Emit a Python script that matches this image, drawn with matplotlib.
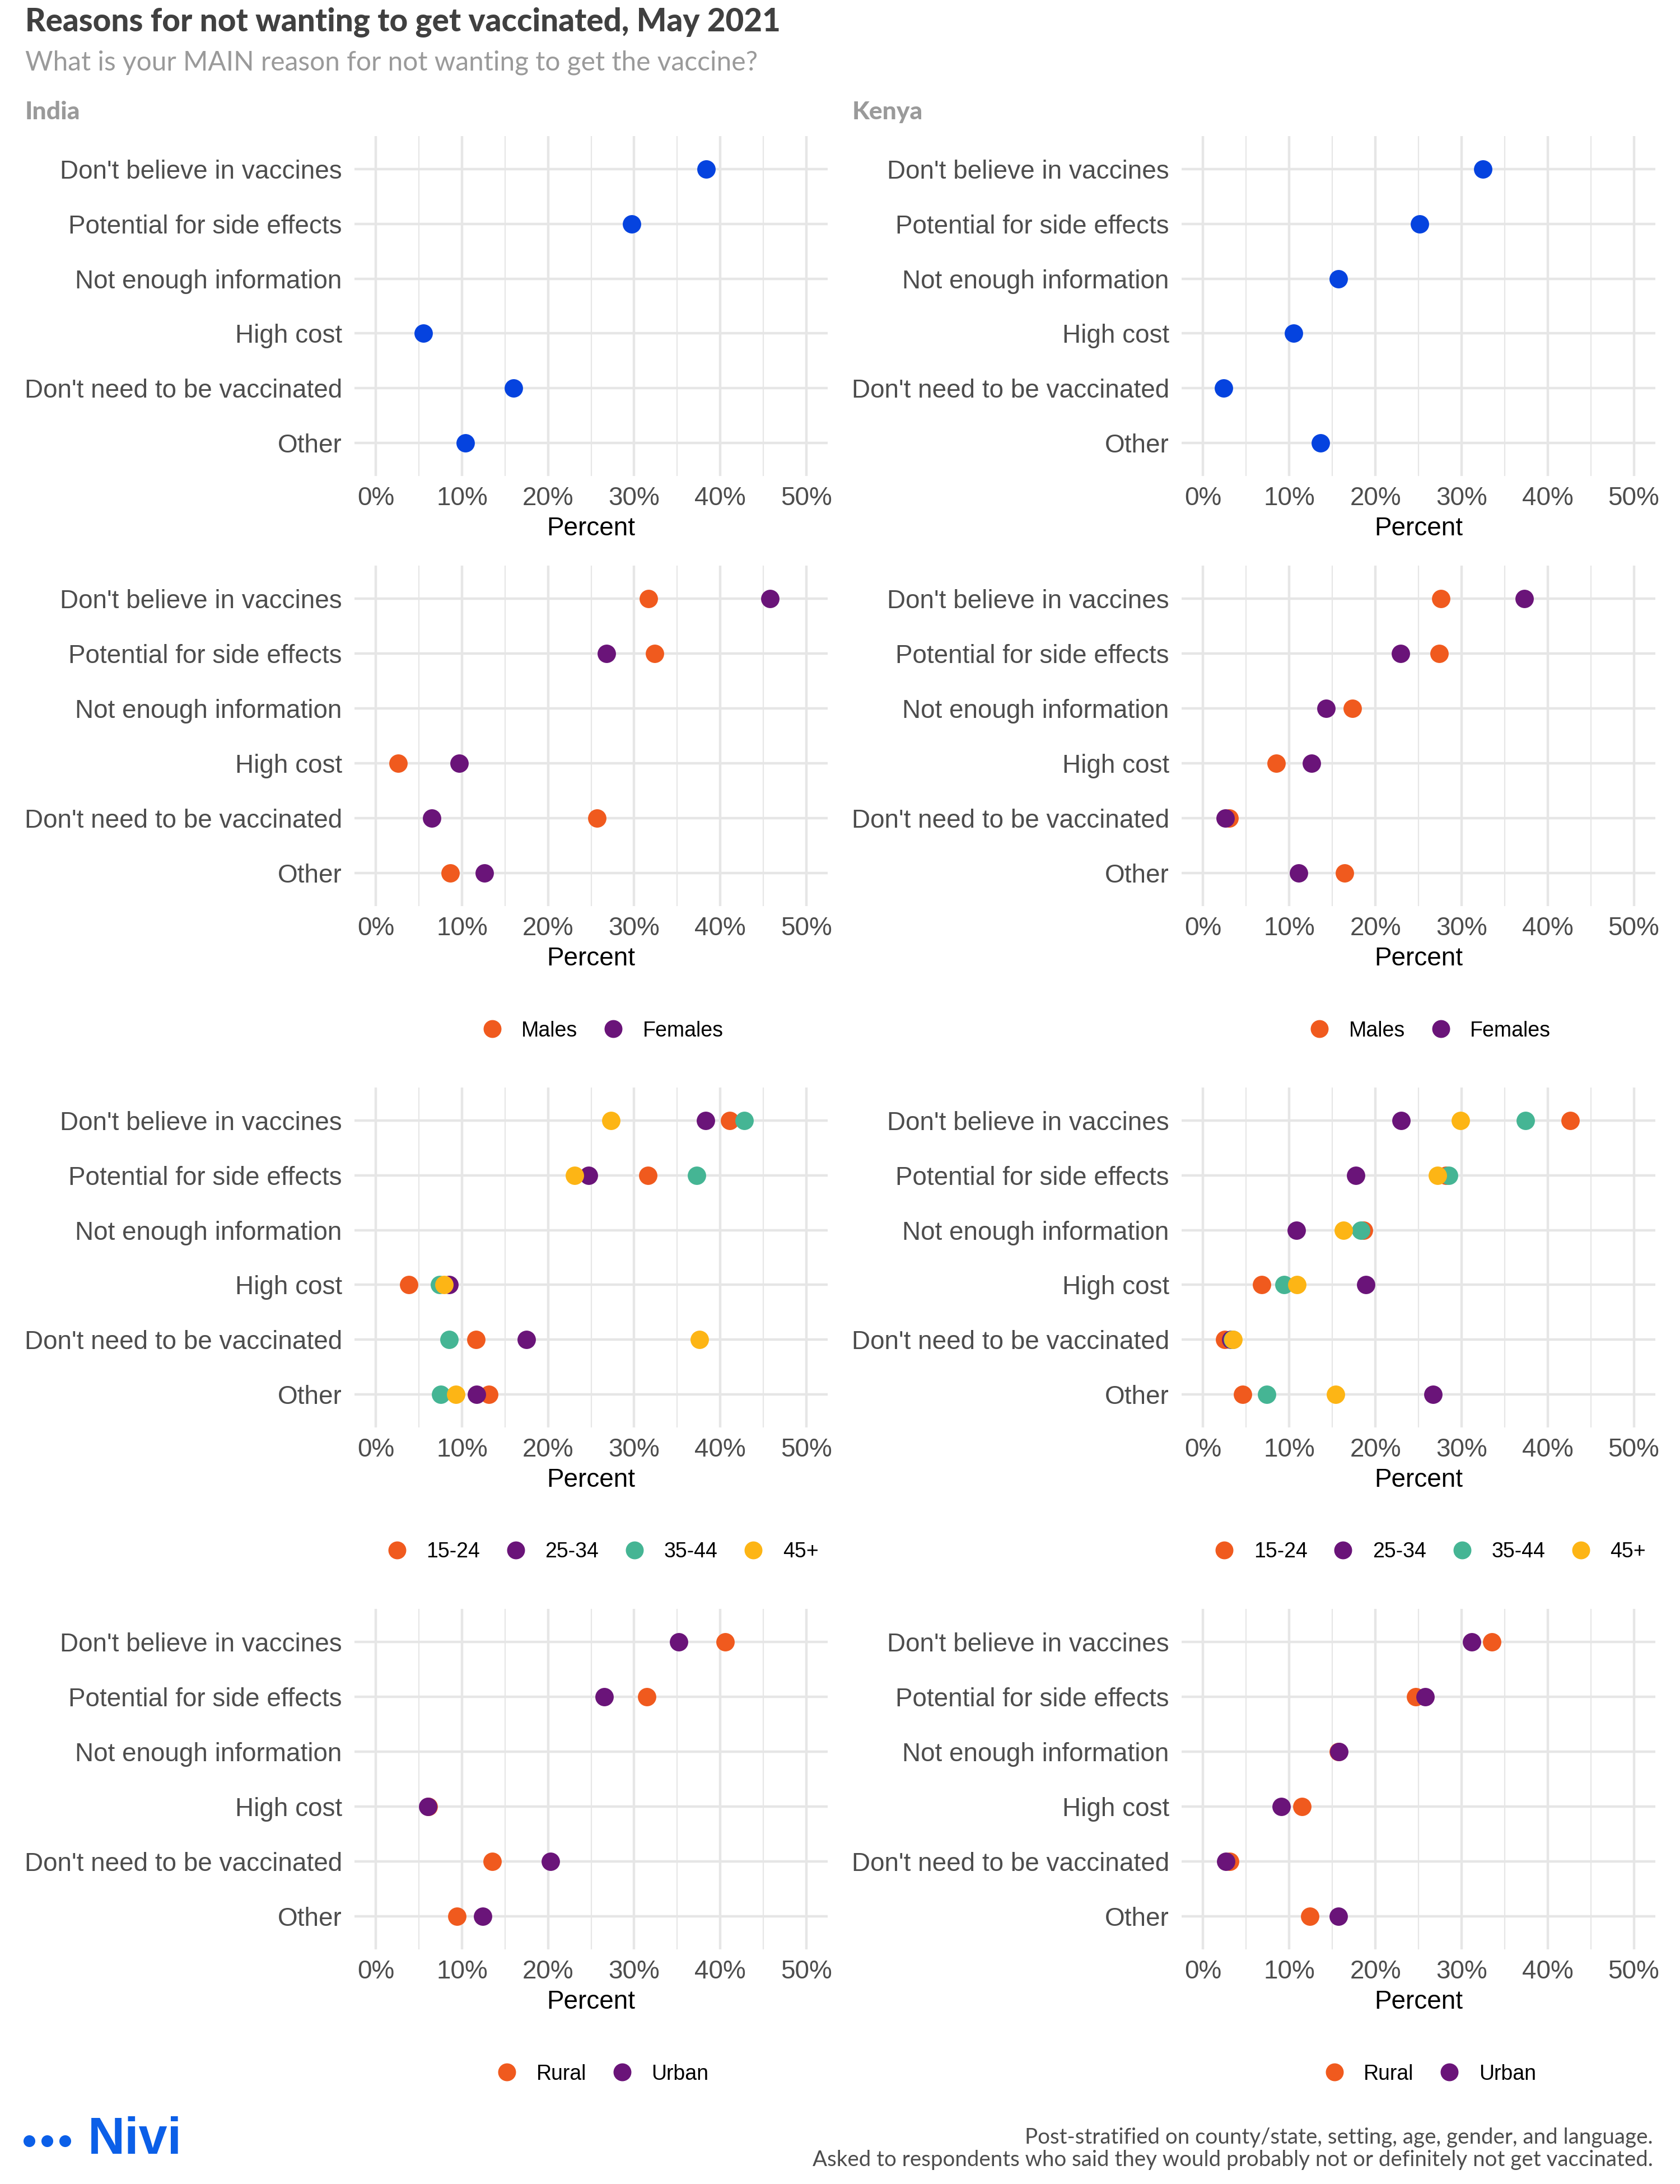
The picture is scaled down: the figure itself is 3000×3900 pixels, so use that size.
import numpy as np
import matplotlib
matplotlib.use("Agg")
import matplotlib.pyplot as plt
from matplotlib.lines import Line2D

plt.rcParams['font.family'] = ['Liberation Sans', 'DejaVu Sans']

# --- datos (porcentaje, None = sin respuesta) ---
reasons = ["Don't believe in vaccines", "Potential for side effects", "Not enough information",
           "High cost", "Don't need to be vaccinated", "Other"]

india_all = [38.4, 29.7, None, 5.5, 16.0, 10.4]
kenya_all = [32.5, 25.1, 15.7, 10.5, 2.4, 13.6]

gender_labels = ["Males", "Females"]
india_males = [31.7, 32.4, None, 2.6, 25.7, 8.6]
india_females = [45.8, 26.8, None, 9.7, 6.5, 12.6]
kenya_males = [27.6, 27.4, 17.3, 8.5, 3.0, 16.4]
kenya_females = [37.3, 22.9, 14.3, 12.6, 2.6, 11.1]

age_labels = ["15-24", "25-34", "35-44", "45+"]
india_15_24 = [41.1, 31.6, None, 3.8, 11.6, 13.1]
india_25_34 = [38.3, 24.7, None, 8.5, 17.5, 11.7]
india_35_44 = [42.8, 37.3, None, 7.4, 8.5, 7.5]
india_45_plus = [27.3, 23.1, None, 7.9, 37.6, 9.3]
kenya_15_24 = [42.6, 28.2, 18.6, 6.8, 2.5, 4.6]
kenya_25_34 = [23.0, 17.7, 10.8, 18.9, 3.2, 26.7]
kenya_35_44 = [37.4, 28.5, 18.3, 9.4, 3.4, 7.4]
kenya_45_plus = [29.9, 27.2, 16.3, 10.9, 3.5, 15.4]

setting_labels = ["Rural", "Urban"]
india_rural = [40.6, 31.5, None, 6.1, 13.5, 9.4]
india_urban = [35.2, 26.5, None, 6.0, 20.3, 12.4]
kenya_rural = [33.5, 24.7, 15.7, 11.5, 3.1, 12.4]
kenya_urban = [31.2, 25.8, 15.8, 9.1, 2.65, 15.7]

# --- estilo ---
BLUE = '#0543DF'
ORANGE = '#F05A1E'
PURPLE = '#6A1479'
GREEN = '#45B594'
YELLOW = '#FDB515'
GRID = '#E6E6E6'
TXT = '#4D4D4D'

W, H = 3000, 3900
fig = plt.figure(figsize=(W / 100, H / 100), dpi=100)


def add_ax(left, top, right, bottom):
    return fig.add_axes([left / W, 1 - bottom / H, (right - left) / W, (bottom - top) / H])


def panel(ax, series, colors, labels=None):
    ax.set_xlim(-2.5, 52.5)
    ax.set_ylim(5.6, -0.6)
    ax.set_xticks(range(0, 51, 10))
    ax.set_xticks(range(5, 51, 10), minor=True)
    ax.set_xticklabels([f'{v}%' for v in range(0, 51, 10)])
    ax.set_yticks(range(len(reasons)))
    ax.set_yticklabels(reasons)
    ax.grid(which='major', color=GRID, lw=3.2)
    ax.grid(which='minor', axis='x', color=GRID, lw=1.6)
    ax.set_axisbelow(True)
    for s in ax.spines.values():
        s.set_visible(False)
    ax.tick_params(which='both', length=0)
    ax.tick_params(axis='y', pad=16, labelsize=33, labelcolor=TXT)
    ax.tick_params(axis='x', pad=13, labelsize=33, labelcolor=TXT)
    ax.set_xlabel('Percent', fontsize=33, color='black', labelpad=7)

    y = np.arange(len(reasons))
    for vals, c in zip(series, colors):
        v = np.array([np.nan if x is None else x for x in vals], dtype=float)
        ax.scatter(v, y, s=560, color=c, linewidths=0, zorder=3, clip_on=False)

    if labels:
        handles = [Line2D([], [], ls='', marker='o', ms=22, mfc=c, mec=c) for c in colors]
        ax.legend(handles, labels, loc='center', bbox_to_anchor=(0.524, -0.366), ncol=len(labels),
                  frameon=False, fontsize=27, handletextpad=0.9, columnspacing=1.2, handlelength=1.0)


rows = [(243, 850), (1010, 1618), (1942, 2549), (2873, 3481)]
cols = [(633, 1478), (2110, 2956)]

india = [
    ([india_all], [BLUE], None),
    ([india_males, india_females], [ORANGE, PURPLE], gender_labels),
    ([india_15_24, india_25_34, india_35_44, india_45_plus], [ORANGE, PURPLE, GREEN, YELLOW], age_labels),
    ([india_rural, india_urban], [ORANGE, PURPLE], setting_labels),
]
kenya = [
    ([kenya_all], [BLUE], None),
    ([kenya_males, kenya_females], [ORANGE, PURPLE], gender_labels),
    ([kenya_15_24, kenya_25_34, kenya_35_44, kenya_45_plus], [ORANGE, PURPLE, GREEN, YELLOW], age_labels),
    ([kenya_rural, kenya_urban], [ORANGE, PURPLE], setting_labels),
]

for (top, bot), spec_i, spec_k in zip(rows, india, kenya):
    panel(add_ax(cols[0][0], top, cols[0][1], bot), *spec_i)
    panel(add_ax(cols[1][0], top, cols[1][1], bot), *spec_k)

# --- textos ---
HEAD = ['Lato', 'DejaVu Sans']
fig.text(45 / W, 1 - 40 / H, "Reasons for not wanting to get vaccinated, May 2021",
         fontsize=40.7, fontweight='black', color='#404040', family=HEAD, va='center', ha='left')
fig.text(45 / W, 1 - 112 / H, "What is your MAIN reason for not wanting to get the vaccine?",
         fontsize=34.5, color='#9A9A9A', family=HEAD, va='center', ha='left')
fig.text(45 / W, 1 - 200 / H, "India", fontsize=32, fontweight='black', color='#9A9A9A',
         family=HEAD, va='center', ha='left')
fig.text(1522 / W, 1 - 200 / H, "Kenya", fontsize=32, fontweight='black', color='#9A9A9A',
         family=HEAD, va='center', ha='left')

fig.text(2952 / W, 1 - 3817 / H, "Post-stratified on county/state, setting, age, gender, and language.",
         fontsize=27.7, color=TXT, family=HEAD, va='center', ha='right')
fig.text(2952 / W, 1 - 3857 / H, "Asked to respondents who said they would probably not or definitely not get vaccinated.",
         fontsize=27.7, color=TXT, family=HEAD, va='center', ha='right')

# logo Nivi
logo = fig.add_axes([40 / W, 1 - 3845 / H, 100 / W, 44 / H])
logo.set_xlim(0, 100)
logo.set_ylim(0, 44)
logo.axis('off')
logo.scatter([12, 44, 76], [22, 22, 22], s=230, color='#0B5FE8', linewidths=0)
fig.text(157 / W, 1 - 3822 / H, "Nivi", fontsize=66, fontweight='bold', color='#0B5FE8',
         va='center', ha='left')

fig.savefig("out.png", dpi=100)
